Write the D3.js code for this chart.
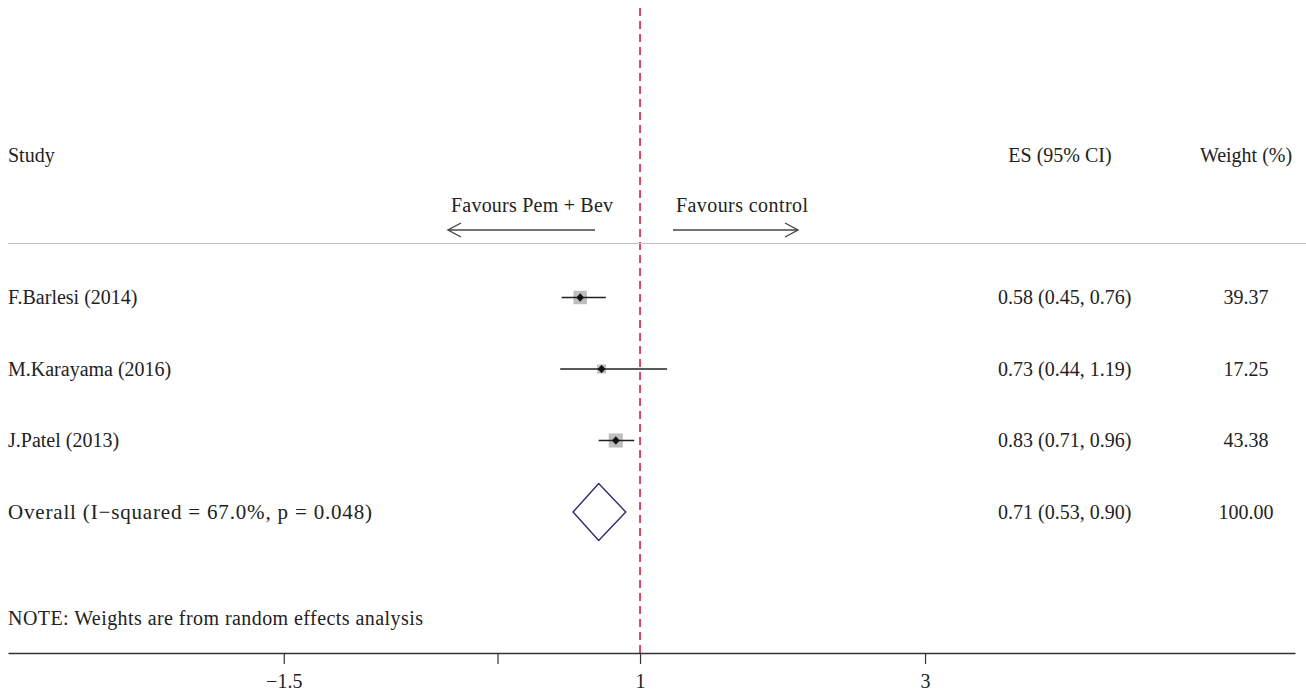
<!DOCTYPE html>
<html>
<head>
<meta charset="utf-8">
<script src="https://cdn.jsdelivr.net/npm/d3@7"></script>
<style>
  html, body { margin: 0; padding: 0; background: #fff; }
  svg { display: block; }
  text { font-family: "Liberation Serif", "Times New Roman", serif; fill: #222; }
</style>
</head>
<body>
<svg id="chart" width="1306" height="692"></svg>
<script>
// ---- data ----
const studies = ["F.Barlesi (2014)", "M.Karayama (2016)", "J.Patel (2013)"];
const es      = [0.58, 0.73, 0.83];
const ciLow   = [0.45, 0.44, 0.71];
const ciHigh  = [0.76, 1.19, 0.96];
const weights = [39.37, 17.25, 43.38];
const overallLabel = "Overall (I\u2212squared = 67.0%, p = 0.048)";
const overallES = 0.71, overallLow = 0.53, overallHigh = 0.90, overallWeight = 100.00;
const tickValues = [-1.5, 0, 1, 3];
const tickLabels = ["\u22121.5", "", "1", "3"];
const nullValue = 1;
const headerStudy = "Study", headerES = "ES (95% CI)", headerWeight = "Weight (%)";
const favLeft = "Favours Pem + Bev", favRight = "Favours control";
const note = "NOTE: Weights are from random effects analysis";

// ---- layout ----
const svg = d3.select("#chart");
const fs = 20;
const x = d3.scaleLinear().domain([-3.435, 5.596]).range([8, 1295]);
const rows = studies.concat(["Overall"]);
const y = d3.scalePoint().domain(rows).range([297.5, 512]);
const axisY = 653;
const f2 = d3.format(".2f");

// dashed null line
svg.append("line")
  .attr("x1", x(nullValue)).attr("x2", x(nullValue))
  .attr("y1", 8).attr("y2", axisY)
  .attr("stroke", "#d41c47").attr("stroke-width", 1.6)
  .attr("stroke-dasharray", "8,5");

// headers
svg.append("text").attr("x", 8).attr("y", 162).attr("font-size", fs).text(headerStudy);
svg.append("text").attr("x", 1060).attr("y", 162).attr("font-size", fs).attr("text-anchor", "middle").text(headerES);
svg.append("text").attr("x", 1246).attr("y", 162).attr("font-size", fs).attr("text-anchor", "middle").text(headerWeight);

// favours labels and arrows
svg.append("text").attr("x", 451).attr("y", 212).attr("font-size", fs)
  .attr("textLength", 162).attr("lengthAdjust", "spacing").text(favLeft);
svg.append("text").attr("x", 676).attr("y", 212).attr("font-size", fs)
  .attr("textLength", 132).attr("lengthAdjust", "spacing").text(favRight);
const arrowY = 230;
const ag = svg.append("g").attr("stroke", "#444").attr("stroke-width", 1.4).attr("fill", "none");
ag.append("line").attr("x1", 448).attr("x2", 595).attr("y1", arrowY).attr("y2", arrowY);
ag.append("path").attr("d", `M461,${arrowY-7} L448,${arrowY} L461,${arrowY+7}`);
ag.append("line").attr("x1", 673).attr("x2", 798).attr("y1", arrowY).attr("y2", arrowY);
ag.append("path").attr("d", `M785,${arrowY-7} L798,${arrowY} L785,${arrowY+7}`);

// separator
svg.append("line").attr("x1", 8).attr("x2", 1306).attr("y1", 243.5).attr("y2", 243.5)
  .attr("stroke", "#c4c4c4").attr("stroke-width", 1.2);

// study rows
const data = studies.map((s, i) => ({ s, es: es[i], lo: ciLow[i], hi: ciHigh[i], w: weights[i] }));
const g = svg.append("g");
const row = g.selectAll("g.row").data(data).join("g").attr("class", "row");
row.append("rect")
  .attr("x", d => x(d.es) - 1.07 * Math.sqrt(d.w))
  .attr("y", d => y(d.s) - 1.07 * Math.sqrt(d.w))
  .attr("width", d => 2.14 * Math.sqrt(d.w))
  .attr("height", d => 2.14 * Math.sqrt(d.w))
  .attr("fill", "#bdbdbd");
row.append("line")
  .attr("x1", d => x(d.lo)).attr("x2", d => x(d.hi))
  .attr("y1", d => y(d.s)).attr("y2", d => y(d.s))
  .attr("stroke", "#222").attr("stroke-width", 1.3);
row.append("path")
  .attr("d", d => { const cx = x(d.es), cy = y(d.s);
    return `M${cx-3.8},${cy} L${cx},${cy-4.2} L${cx+3.8},${cy} L${cx},${cy+4.2} Z`; })
  .attr("fill", "#111");
row.append("text").attr("x", 8).attr("y", d => y(d.s) + 6.5).attr("font-size", fs).text(d => d.s);
row.append("text").attr("x", 998).attr("y", d => y(d.s) + 6.5).attr("font-size", fs)
  .text(d => `${f2(d.es)} (${f2(d.lo)}, ${f2(d.hi)})`);
row.append("text").attr("x", 1246).attr("y", d => y(d.s) + 6.5).attr("font-size", fs)
  .attr("text-anchor", "middle").text(d => f2(d.w));

// overall
const oy = y("Overall");
const dh = 28.5;
svg.append("path")
  .attr("d", `M${x(overallLow)},${oy} L${x(overallES)},${oy-dh} L${x(overallHigh)},${oy} L${x(overallES)},${oy+dh} Z`)
  .attr("fill", "none").attr("stroke", "#2c2a6e").attr("stroke-width", 1.4);
svg.append("text").attr("x", 8).attr("y", oy + 6.5).attr("font-size", 21)
  .attr("textLength", 364).attr("lengthAdjust", "spacing").text(overallLabel);
svg.append("text").attr("x", 998).attr("y", oy + 6.5).attr("font-size", fs)
  .text(`${f2(overallES)} (${f2(overallLow)}, ${f2(overallHigh)})`);
svg.append("text").attr("x", 1246).attr("y", oy + 6.5).attr("font-size", fs)
  .attr("text-anchor", "middle").text(f2(overallWeight));

// note
svg.append("text").attr("x", 8).attr("y", 625).attr("font-size", fs)
  .attr("textLength", 415).attr("lengthAdjust", "spacing").text(note);

// axis
const axis = d3.axisBottom(x).tickValues(tickValues)
  .tickFormat((d, i) => tickLabels[i]).tickSize(11).tickSizeOuter(0);
const ax = svg.append("g").attr("transform", `translate(0,${axisY})`).call(axis);
ax.select(".domain").attr("stroke", "#333").attr("stroke-width", 1.6);
ax.selectAll(".tick line").attr("stroke", "#333").attr("stroke-width", 1.2);
ax.selectAll(".tick text").attr("font-size", fs).attr("fill", "#222")
  .attr("font-family", "Liberation Serif, serif").attr("dy", "1.05em");
</script>
</body>
</html>
